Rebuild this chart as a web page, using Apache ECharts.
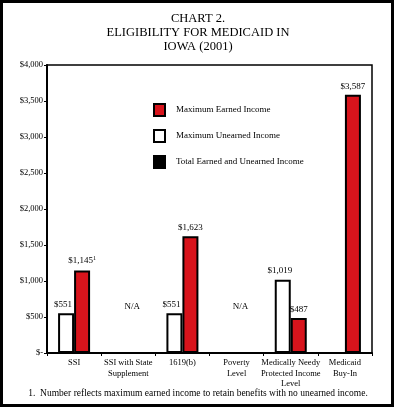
<!DOCTYPE html>
<html>
<head>
<meta charset="utf-8">
<script src="https://cdn.jsdelivr.net/npm/echarts@6/dist/echarts.min.js"></script>
<style>
  html, body { margin: 0; padding: 0; background: #fff; }
  #chart { width: 396px; height: 410px; }
</style>
</head>
<body>
<div id="chart"></div>
<script>
// 数据
var categories = ['SSI', 'SSI with State\nSupplement', '1619(b)', 'Poverty\nLevel', 'Medically Needy\nProtected Income\nLevel', 'Medicaid\nBuy-In'];
var unearned = [551, null, 551, null, 1019, null];
var earned = [1145, null, 1623, null, 487, 3587];
var total = [null, null, null, null, null, null];
var naMarks = [null, 650, null, 650, null, null];
var yTicks = [0, 500, 1000, 1500, 2000, 2500, 3000, 3500, 4000];

var serif = '"Liberation Serif", "DejaVu Serif", serif';

function money(v) {
    if (v === 0) return '$-';
    return '$' + v.toLocaleString('en-US');
}

var myChart = echarts.init(document.getElementById('chart'));

var option = {
    animation: false,
    textStyle: { fontFamily: serif, color: '#000' },
    title: {
        text: 'CHART 2.\nELIGIBILITY FOR MEDICAID IN\nIOWA (2001)',
        left: 'center',
        top: 7,
        textStyle: { fontFamily: serif, fontSize: 12.5, fontWeight: 'normal', lineHeight: 14, color: '#000' }
    },
    legend: {
        orient: 'vertical',
        left: 148,
        top: 98,
        icon: 'rect',
        itemWidth: 11,
        itemHeight: 12,
        itemGap: 12,
        textStyle: { fontFamily: serif, fontSize: 9, color: '#000', padding: [0, 0, 0, 6] },
        data: ['Maximum Earned Income', 'Maximum Unearned Income', 'Total Earned and Unearned Income']
    },
    grid: {
        left: 47, top: 65, right: 24, bottom: 57,
        show: true, borderColor: '#000', borderWidth: 1.5,
        outerBoundsMode: 'none'
    },
    xAxis: {
        type: 'category',
        data: categories,
        axisLine: { lineStyle: { color: '#000', width: 2 } },
        axisTick: { show: true, length: 3, lineStyle: { color: '#000' } },
        axisLabel: { fontFamily: serif, fontSize: 8.5, color: '#000', lineHeight: 10.5, margin: 5, interval: 0 }
    },
    yAxis: {
        type: 'value',
        min: 0,
        max: 4000,
        interval: 500,
        splitLine: { show: false },
        axisLine: { show: true, lineStyle: { color: '#000', width: 2 } },
        axisTick: { show: true, length: 3, lineStyle: { color: '#000' } },
        axisLabel: {
            fontFamily: serif, fontSize: 8.5, color: '#000', margin: 4,
            formatter: function (v) { return yTicks.indexOf(v) >= 0 ? money(v) : ''; }
        }
    },
    series: [
        {
            name: 'Maximum Unearned Income',
            type: 'bar',
            data: unearned,
            barWidth: 16,
            barGap: '0%',
            itemStyle: { color: '#fff', borderColor: '#000', borderWidth: 2 },
            label: {
                show: true, position: 'top', distance: 4, offset: [-3, 0],
                fontFamily: serif, fontSize: 9, color: '#000',
                formatter: function (p) { return money(p.value); }
            }
        },
        {
            name: 'Maximum Earned Income',
            type: 'bar',
            stack: 'earned',
            data: earned,
            barWidth: 16,
            itemStyle: { color: '#d8141c', borderColor: '#000', borderWidth: 2 },
            label: {
                show: true, position: 'top', distance: 4,
                fontFamily: serif, fontSize: 9, color: '#000',
                formatter: function (p) {
                    if (p.dataIndex === 0) return '{a|' + money(p.value) + '}{s|1}';
                    return money(p.value);
                },
                rich: {
                    a: { fontFamily: serif, fontSize: 9, color: '#000', lineHeight: 11 },
                    s: { fontFamily: serif, fontSize: 6, color: '#000', verticalAlign: 'top' }
                }
            }
        },
        {
            name: 'Total Earned and Unearned Income',
            type: 'bar',
            stack: 'earned',
            data: total,
            itemStyle: { color: '#000', borderColor: '#000', borderWidth: 1 }
        },
        {
            name: 'N/A',
            type: 'scatter',
            data: naMarks,
            symbolSize: 0,
            silent: true,
            itemStyle: { opacity: 1 },
            label: {
                show: true, position: 'inside', offset: [4, 0],
                fontFamily: serif, fontSize: 9, color: '#000',
                formatter: 'N/A'
            }
        }
    ],
    graphic: [
        {
            type: 'rect',
            shape: { x: 1.5, y: 1.5, width: 391, height: 404 },
            style: { fill: 'none', stroke: '#000', lineWidth: 3 },
            silent: true
        },
        {
            type: 'text',
            left: 'center',
            top: 388,
            style: {
                text: '1.  Number reflects maximum earned income to retain benefits with no unearned income.',
                font: '9.5px ' + serif,
                fill: '#000'
            }
        }
    ]
};

myChart.setOption(option);
</script>
</body>
</html>
